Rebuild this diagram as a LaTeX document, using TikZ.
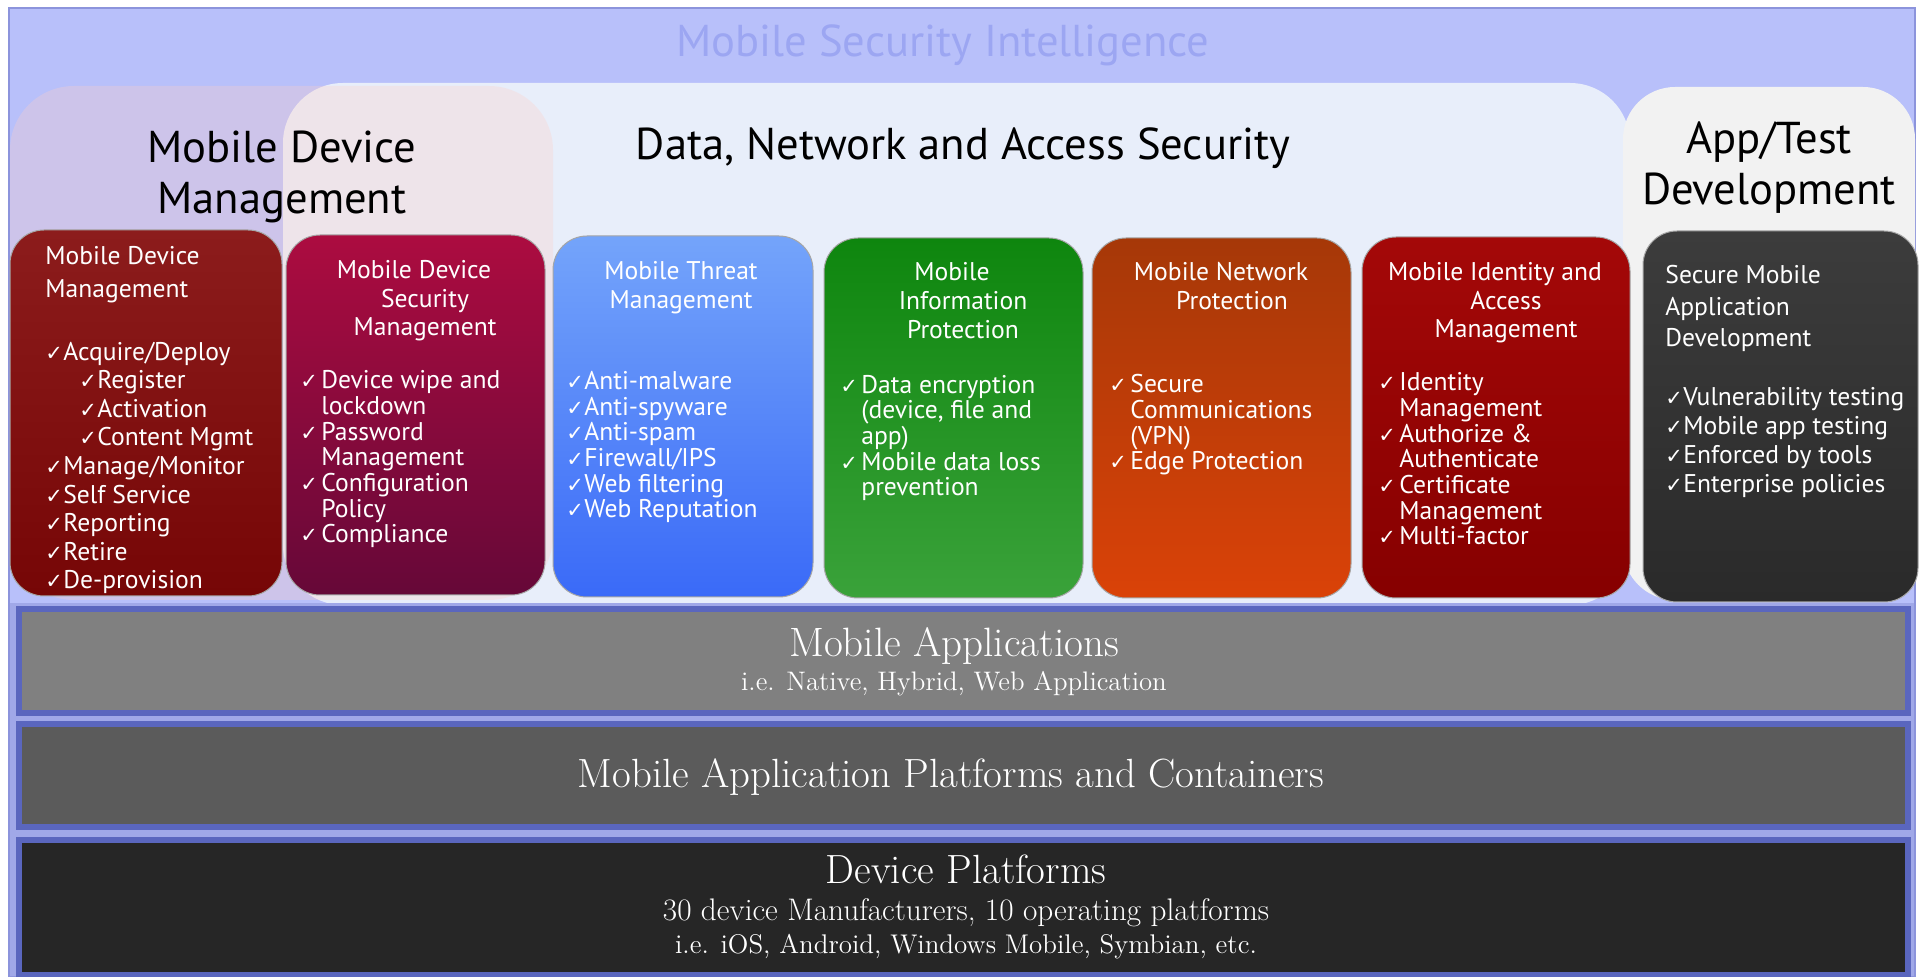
\documentclass[tikz,border=0pt]{standalone}
\usepackage{fontspec}
\newfontfamily\sansf{PT Sans}
\newfontfamily\chkf{DejaVu Sans}

\definecolor{lavband}{HTML}{B8C0FA}
\definecolor{lavedge}{HTML}{8C94DC}
\definecolor{mdmpink}{HTML}{FFD0C8}
\definecolor{dnasbg}{HTML}{E8EEFA}
\definecolor{appbg}{HTML}{F2F2F2}
\definecolor{titleblue}{HTML}{9CA6F2}
\definecolor{barblue}{HTML}{5A66BE}
\definecolor{bargap}{HTML}{A0A8E8}
\definecolor{barA}{HTML}{808080}
\definecolor{barB}{HTML}{5B5B5B}
\definecolor{barC}{HTML}{262626}
\definecolor{bAtop}{HTML}{8C1C1C}\definecolor{bAbot}{HTML}{760606}
\definecolor{bBtop}{HTML}{AC0C40}\definecolor{bBbot}{HTML}{660838}
\definecolor{bCtop}{HTML}{74A4FA}\definecolor{bCbot}{HTML}{3A6AF8}
\definecolor{bDtop}{HTML}{0E860E}\definecolor{bDbot}{HTML}{3AA23A}
\definecolor{bEtop}{HTML}{A63808}\definecolor{bEbot}{HTML}{DA4208}
\definecolor{bFtop}{HTML}{A40808}\definecolor{bFbot}{HTML}{860000}
\definecolor{bGtop}{HTML}{3C3C3C}\definecolor{bGbot}{HTML}{2A2A2A}

\newcommand{\tk}{\makebox[9pt][l]{\chkf\fontsize{10.5}{12}\selectfont ✓}}
\newcommand{\tks}{\makebox[10.5pt][l]{\chkf\fontsize{10.5}{12}\selectfont ✓}}
\newcommand{\hg}{\hspace*{10.5pt}}
\newcommand{\sub}{\hspace*{17pt}}
\newcommand{\trail}{\hspace*{11pt}}

\begin{document}
\begin{tikzpicture}[x=0.5pt,y=-0.5pt]
\tikzset{
  box/.style={rounded corners=17pt, draw=black!35, line width=0.5pt},
  boxtitle/.style={text=white, inner sep=0pt, align=center, anchor=base, font=\sansf\fontsize{12.8}{#1}\selectfont},
  boxlist/.style={text=white, inner sep=0pt, align=left, anchor=base west, font=\sansf\fontsize{12.8}{#1}\selectfont},
  heading/.style={inner sep=0pt, align=center, anchor=base, font=\sansf\fontsize{22.3}{25.5}\selectfont},
  bar/.style={draw=barblue, line width=3pt},
  bartext/.style={text=white, inner sep=0pt, anchor=base, font=\fontsize{#1}{#1}\selectfont}
}
\useasboundingbox (0,0) rectangle (1922,977);

% frame and group regions
\fill[lavband, draw=lavedge, line width=1pt] (9,8) rectangle (1915,977);
\fill[dnasbg, rounded corners=30pt] (283,83) rectangle (1630,605);
\fill[appbg, rounded corners=26pt] (1623,87) rectangle (1915,600);
\fill[mdmpink, fill opacity=0.3, rounded corners=32pt] (10,86) rectangle (553,600);

% (multi-line nodes: base = last line)
\node[inner sep=0pt, anchor=base, text=titleblue, font=\sansf\fontsize{22.3}{25}\selectfont] (msi) at (943,57) {Mobile Security Intelligence};
\node[heading] (mdmhead) at (282,214) {Mobile Device\\Management};
\node[heading] (dnashead) at (963,160) {Data, Network and Access Security};
\node[heading] (apphead) at (1769,205) {App/Test\\Development};

% the seven boxes
\node[box, minimum width=136pt, minimum height=183pt, top color=bAtop, bottom color=bAbot] (mdm) at (146,413) {};
\node[box, minimum width=129.5pt, minimum height=180pt, top color=bBtop, bottom color=bBbot] (mdsm) at (415.5,415) {};
\node[box, minimum width=130pt, minimum height=180.5pt, top color=bCtop, bottom color=bCbot] (mtm) at (683,416.5) {};
\node[box, minimum width=129.5pt, minimum height=180pt, top color=bDtop, bottom color=bDbot] (mip) at (953.5,418) {};
\node[box, minimum width=129.5pt, minimum height=180pt, top color=bEtop, bottom color=bEbot] (mnp) at (1221.5,418) {};
\node[box, minimum width=134pt, minimum height=180.5pt, top color=bFtop, bottom color=bFbot] (miam) at (1496,417.5) {};
\node[box, minimum width=137.5pt, minimum height=185.5pt, top color=bGtop, bottom color=bGbot] (smad) at (1780.5,416.5) {};

% box texts
\node[boxlist=16.5] (mdm-t) at (45,298) {Mobile Device\\Management};
\node[boxlist=14.3] (mdm-l) at (45,589) {\tk Acquire/Deploy\\\sub\tk Register\\\sub\tk Activation\\\sub\tk Content Mgmt\\\tk Manage/Monitor\\\tk Self Service\\\tk Reporting\\\tk Retire\\\tk De-provision};

\node[boxtitle=14.25] (mdsm-t) at (425,336) {Mobile Device\trail\\Security\\Management};
\node[boxlist=12.85] (mdsm-l) at (300,543) {\tks Device wipe and\\\hg lockdown\\\tks Password\\\hg Management\\\tks Configuration\\\hg Policy\\\tks Compliance};

\node[boxtitle=14.5] (mtm-t) at (681,309) {Mobile Threat\\Management};
\node[boxlist=12.85] (mtm-l) at (566,518) {\tk Anti-malware\\\tk Anti-spyware\\\tk Anti-spam\\\tk Firewall/IPS\\\tk Web filtering\\\tk Web Reputation};

\node[boxtitle=14.5] (mip-t) at (963,339) {Mobile\trail\\Information\trail\\Protection};
\node[boxlist=12.85] (mip-l) at (840,496) {\tks Data encryption\\\hg (device, file and\\\hg app)\\\tks Mobile data loss\\\hg prevention};

\node[boxtitle=14.5] (mnp-t) at (1232,310) {Mobile Network\trail\\Protection};
\node[boxlist=12.85] (mnp-l) at (1109,470) {\tks Secure\\\hg Communications\\\hg (VPN)\\\tks Edge Protection};

\node[boxtitle=14.25] (miam-t) at (1506,338) {Mobile Identity and\trail\\Access\\Management};
\node[boxlist=12.85] (miam-l) at (1378,545) {\tks Identity\\\hg Management\\\tks Authorize \&\\\hg Authenticate\\\tks Certificate\\\hg Management\\\tks Multi-factor};

\node[boxlist=15.75] (smad-t) at (1665,347) {Secure Mobile\\Application\\Development};
\node[boxlist=14.5] (smad-l) at (1665,493) {\tk Vulnerability testing\\\tk Mobile app testing\\\tk Enforced by tools\\\tk Enterprise policies};

% layer bars
\fill[bargap] (10,603) rectangle (1914,976);
\draw[bar, fill=barA] (18.5,609) rectangle (1907.5,713);
\draw[bar, fill=barB] (18.5,724) rectangle (1907.5,827);
\draw[bar, fill=barC] (18.5,840) rectangle (1907.5,975);

\node[bartext=20.5] (apps) at (954,657) {Mobile Applications};
\node[bartext=13.4] (apps-s) at (954,691) {i.e. Native, Hybrid, Web Application};
\node[bartext=20.4] (cont) at (951,788) {Mobile Application Platforms and Containers};
\node[bartext=20.4] (dev) at (966,883) {Device Platforms};
\node[bartext=15.6] (dev-a) at (966,920) {30 device Manufacturers, 10 operating platforms};
\node[bartext=13.5] (dev-b) at (966,953) {i.e. iOS, Android, Windows Mobile, Symbian, etc.};

\end{tikzpicture}
\end{document}
